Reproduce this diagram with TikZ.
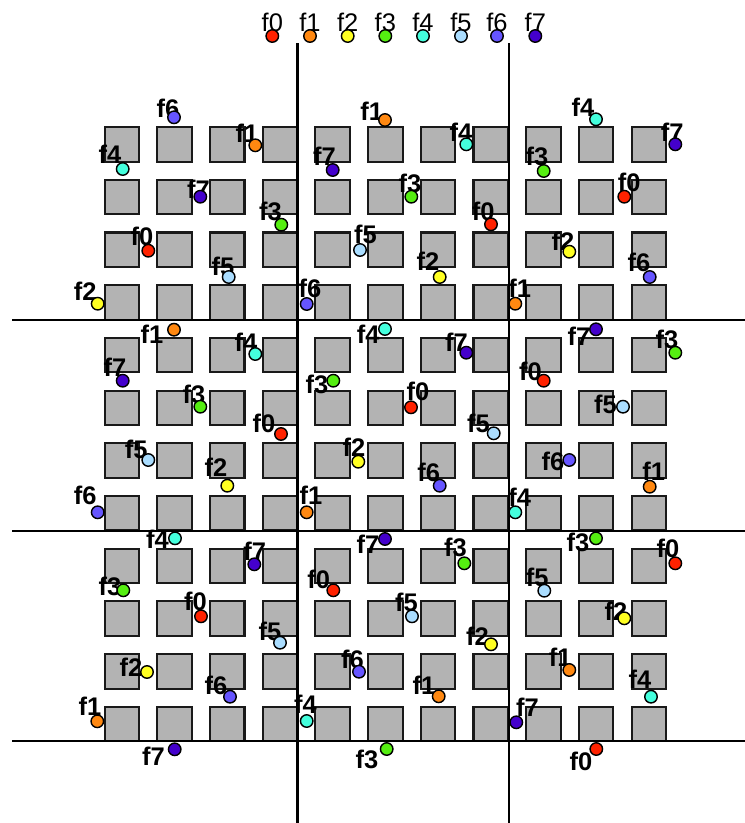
\documentclass[tikz,border=0pt]{standalone}
\usepackage{fontspec}
\setmainfont{Liberation Sans}
\definecolor{c0}{RGB}{255,34,0}
\definecolor{c1}{RGB}{255,136,17}
\definecolor{c2}{RGB}{255,255,34}
\definecolor{c3}{RGB}{85,238,17}
\definecolor{c4}{RGB}{68,255,221}
\definecolor{c5}{RGB}{170,221,255}
\definecolor{c6}{RGB}{102,85,255}
\definecolor{c7}{RGB}{68,0,204}
\definecolor{sq}{RGB}{179,179,179}
\tikzset{
  cell/.style={draw=black!90, fill=sq, line width=1.2pt, minimum size=0.69cm, inner sep=0pt},
  dot/.style={circle, draw=black, line width=0.8pt, inner sep=0pt, minimum size=0.25cm},
  lab/.style={font=\bfseries\fontsize{14.5}{15}\selectfont, inner sep=0pt, anchor=base},
  leg/.style={font=\fontsize{14.5}{15}\selectfont, inner sep=0pt, anchor=base},
  sepline/.style={line width=1.2pt, black}
}
\begin{document}
\begin{tikzpicture}[x=0.02cm, y=-0.02cm]
\useasboundingbox (0,0) rectangle (745,823);
% squares
\foreach \c in {0,...,10} {
  \foreach \r in {0,...,11} {
    \node[cell] (s-\c-\r) at ({121.85+\c*52.7},{144.35+\r*52.7}) {};
  }
}
% separating lines
\draw[sepline] (297.5,43) -- (297.5,823);
\draw[sepline] (508.7,43) -- (508.7,823);
\draw[sepline] (12,320) -- (745,320);
\draw[sepline] (12,530.7) -- (745,530.7);
\draw[sepline] (12,741.4) -- (745,741.4);
% legend
\foreach \k/\x in {0/272.3,1/310,2/347.7,3/385.3,4/423,5/461,6/497,7/535.3} {
  \node[leg] (legl\k) at (\x,31) {f\k};
  \node[dot, fill=c\k] (legd\k) at (\x,36) {};
}
% labelled dots
\foreach \dx/\dy/\k/\lx/\ly [count=\i] in {
174/117.3/6/168/117,
122.7/169/4/110/163,
255.3/145.3/1/247/142,
200.3/196.7/7/198.5/198,
281.3/224.7/3/270.5/220,
148.3/250.7/0/142/245,
228.7/277/5/223/275,
97.7/303.7/2/85.3/300,
385/120/1/371.7/120,
332.7/170/7/324.5/165.7,
466.3/144.3/4/461/141.7,
411.3/196.7/3/410/192,
360/250/5/365.5/243,
491/224.3/0/483.3/220,
439.7/277/2/428/270,
306.7/304/6/310/297,
515.3/303.7/1/519.7/297,
596/119.3/4/583/116.7,
675.3/144.3/7/672.3/141.7,
543.7/171/3/537/165,
624.3/196.7/0/629.3/191.7,
569.3/251.7/2/563/250,
649.7/277/6/639/271.7,
174/329.7/1/152/343.3,
255.3/354/4/246/351.7,
122.7/380.7/7/115/376.7,
200.3/406.7/3/194/403.3,
281/434/0/264/432.7,
148.3/460/5/136.3/458.3,
227.3/485.7/2/216/476.7,
97.7/512.3/6/85.3/504.3,
385/329/4/368.3/343,
333.3/380.7/3/317/393.3,
466.3/352.7/7/456.5/351.7,
411/407.3/0/418/400,
493.7/433.3/5/478.5/432.7,
358.3/461.7/2/354/456.7,
439.7/485.7/6/428.7/481.7,
306.7/512.3/1/311/504.3,
515.3/512.3/4/519.7/506.7,
596/329.3/7/579/345,
675.3/352.7/3/667/348.3,
543.7/380.7/0/530.5/380.7,
623/406.7/5/605.5/413.3,
569.3/460/6/553/470,
649.7/486.7/1/653.7/480.7,
175/538.3/4/157.5/548.3,
254.3/564.3/7/254.7/560,
123.3/590.3/3/110/595.7,
201/616.3/0/195.5/610,
280/642.7/5/270/640,
147/672/2/131/676.7,
230/696.7/6/216/694,
97.3/721.3/1/90/715,
174.7/749.3/7/153.5/765,
306.7/721/4/305.5/713.3,
333.3/590.3/0/318.8/588.3,
385/539/7/368/553,
464.3/563.3/3/455.5/556.7,
412/616.3/5/406.5/611.7,
491/644.3/2/477.5/645,
359/671.7/6/352.5/668.3,
438.7/696.3/1/424/694,
386.7/749/3/367/768.3,
516.3/722.3/7/527.5/716.7,
596/538.3/3/578/551.7,
675.3/563.3/0/668/557.3,
544.3/590.7/5/537.3/586.7,
624.3/618.3/2/616/620,
569.3/670/1/560.3/666.7,
651/696.7/4/640/688.3,
596.3/749/0/581/770.7} {
  \node[lab] (l\i) at (\lx,\ly) {f\k};
  \node[dot, fill=c\k] (d\i) at (\dx,\dy) {};
}
\end{tikzpicture}
\end{document}
